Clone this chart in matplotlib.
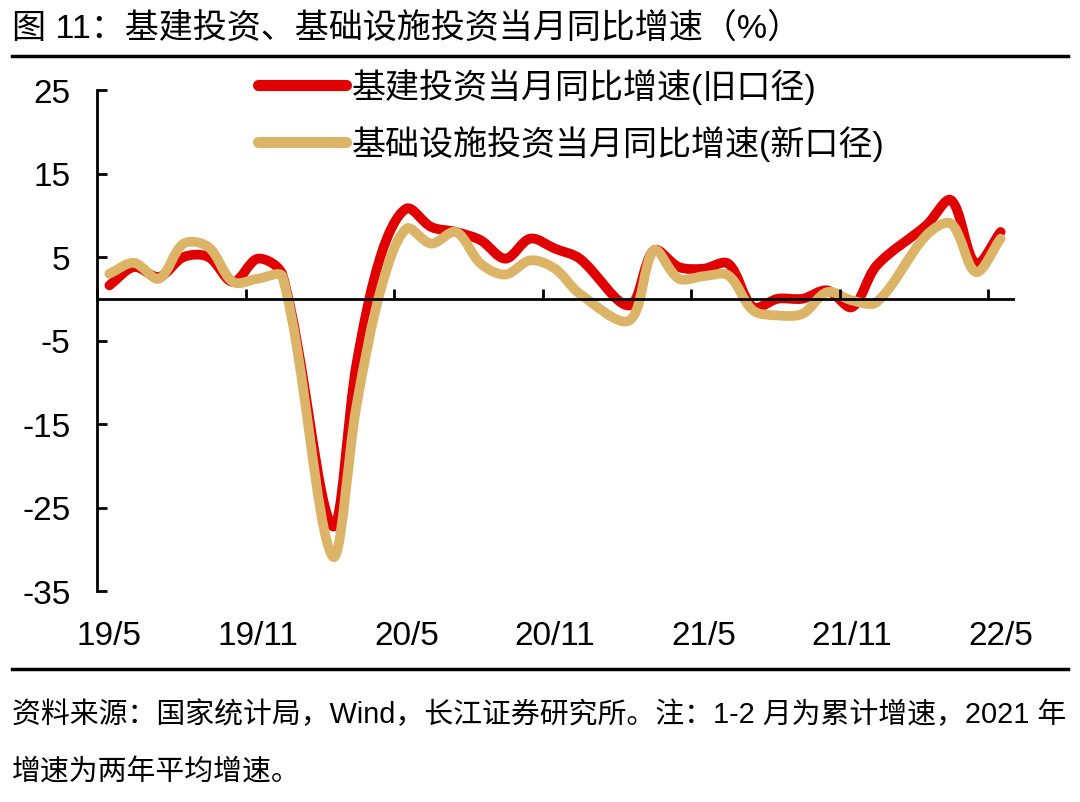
import matplotlib
matplotlib.use('Agg')
import matplotlib.pyplot as plt
from matplotlib.path import Path
from matplotlib.patches import PathPatch
from matplotlib.lines import Line2D
import numpy as np
import pandas as pd

# monthly data, Jan is folded into Feb (1-2 month cumulative)
months = ['2019-05', '2019-06', '2019-07', '2019-08', '2019-09', '2019-10', '2019-11', '2019-12',
          '2020-02', '2020-03', '2020-04', '2020-05', '2020-06', '2020-07', '2020-08', '2020-09',
          '2020-10', '2020-11', '2020-12', '2021-02', '2021-03', '2021-04', '2021-05', '2021-06',
          '2021-07', '2021-08', '2021-09', '2021-10', '2021-11', '2021-12', '2022-02', '2022-03',
          '2022-04', '2022-05']
old_caliber = [1.6, 3.8, 2.6, 5.0, 5.0, 2.0, 4.8, 2.8,
               -27.2, -7.5, 5.5, 10.8, 8.6, 8.0, 7.0, 4.8,
               7.2, 6.0, 4.8, -0.8, 5.8, 3.8, 3.6, 4.2,
               -1.0, 0.0, 0.0, 1.0, -1.0, 4.0, 8.8, 11.8,
               4.2, 8.0]
new_caliber = [3.0, 4.3, 2.4, 6.6, 6.2, 2.0, 2.4, 2.6,
               -30.8, -12.5, 1.5, 8.4, 6.6, 8.0, 4.2, 2.9,
               4.6, 3.6, 0.6, -2.6, 5.8, 2.4, 2.7, 2.8,
               -1.4, -2.0, -1.8, 0.8, -0.2, -0.4, 7.6, 9.0,
               3.2, 7.2]
series_names = ['基建投资当月同比增速(旧口径)', '基础设施投资当月同比增速(新口径)']
tick_labels = ['19/5', '19/11', '20/5', '20/11', '21/5', '21/11', '22/5']
y_ticks = [25, 15, 5, -5, -15, -25, -35]

title = '图 11：基建投资、基础设施投资当月同比增速（%）'
note1 = '资料来源：国家统计局，Wind，长江证券研究所。注：1-2 月为累计增速，2021 年'
note2 = '增速为两年平均增速。'

RED = '#e00000'
GOLD = '#dcb468'

plt.rcParams['font.family'] = ['Liberation Sans', 'Noto Sans CJK SC']

# month index from start, points sit in the middle of each month
per = pd.PeriodIndex(months, freq='M')
xpos = np.array([(p - per[0]).n for p in per]) + 0.5


def smooth_path(ax, x, y, t=1 / 3.0):
    # excel-like smoothed line: bezier pieces, tangent split by neighbour segment lengths
    pts = np.column_stack([x, y]).astype(float)
    scr = ax.transData.transform(pts)
    n = len(pts)
    d = np.hypot(*np.diff(scr, axis=0).T)
    sx = ax.transData.transform([[1, 0]])[0] - ax.transData.transform([[0, 0]])[0]
    sy = ax.transData.transform([[0, 1]])[0] - ax.transData.transform([[0, 0]])[0]
    scale = np.array([sx[0], sy[1]])
    after = []
    before = []
    for i in range(n):
        p0 = scr[i - 1] if i > 0 else scr[i]
        p2 = scr[i + 1] if i < n - 1 else scr[i]
        tan = p2 - p0
        da = d[i - 1] if i > 0 else 0.0
        db = d[i] if i < n - 1 else 0.0
        tot = da + db
        after.append(scr[i] + tan * (db / tot) * t)
        before.append(scr[i] - tan * (da / tot) * t)
    verts = [pts[0]]
    codes = [Path.MOVETO]
    origin = ax.transData.transform([[0, 0]])[0]
    for i in range(n - 1):
        c1 = (after[i] - origin) / scale
        c2 = (before[i + 1] - origin) / scale
        verts += [c1, c2, pts[i + 1]]
        codes += [Path.CURVE4] * 3
    return Path(verts, codes)


fig = plt.figure(figsize=(10.8, 8.03), dpi=100)
ax = fig.add_axes([97 / 1080, 1 - 592 / 803, (1013 - 97) / 1080, (592 - 91) / 803])
ax.set_xlim(0, 37)
ax.set_ylim(-35, 25)

for vals, col in [(old_caliber, RED), (new_caliber, GOLD)]:
    patch = PathPatch(smooth_path(ax, xpos, vals), facecolor='none', edgecolor=col,
                      lw=7, capstyle='round', joinstyle='round')
    ax.add_patch(patch)

ax.spines['top'].set_visible(False)
ax.spines['right'].set_visible(False)
ax.spines['left'].set_linewidth(2)
ax.spines['bottom'].set_position(('data', 0))
ax.spines['bottom'].set_linewidth(2)

ax.set_yticks(y_ticks)
ax.set_yticklabels([str(v) for v in y_ticks])
ax.tick_params(axis='y', direction='in', length=7.5, width=2, labelsize=24, pad=19)

ax.set_xticks(np.arange(0, 37, 6))
ax.tick_params(axis='x', direction='in', length=7.5, width=2, labelbottom=False)

lab = ax.secondary_xaxis('bottom')
lab.spines['bottom'].set_visible(False)
lab.set_xticks(np.arange(0, 37, 6) + 0.5)
lab.set_xticklabels(tick_labels)
lab.tick_params(axis='x', length=0, labelsize=24, pad=21)

handles = [Line2D([], [], color=RED, lw=8, solid_capstyle='round'),
           Line2D([], [], color=GOLD, lw=8, solid_capstyle='round')]
fig.legend(handles, series_names, loc='upper left', bbox_to_anchor=(258 / 1080, 1 - 69 / 803),
           frameon=False, fontsize=24.5, handlelength=2.6, handletextpad=0.15,
           labelspacing=0.62, borderpad=0, borderaxespad=0)

fig.text(12 / 1080, 1 - 29 / 803, title, fontsize=24.5, va='center', ha='left')
fig.add_artist(Line2D([12 / 1080, 1068 / 1080], [1 - 57 / 803] * 2, color='black', lw=2.5))
fig.add_artist(Line2D([12 / 1080, 1068 / 1080], [1 - 670 / 803] * 2, color='black', lw=2.5))
fig.text(12 / 1080, 1 - 715 / 803, note1, fontsize=20.8, va='center', ha='left')
fig.text(12 / 1080, 1 - 773 / 803, note2, fontsize=20.8, va='center', ha='left')

fig.savefig('out.png', dpi=100)
